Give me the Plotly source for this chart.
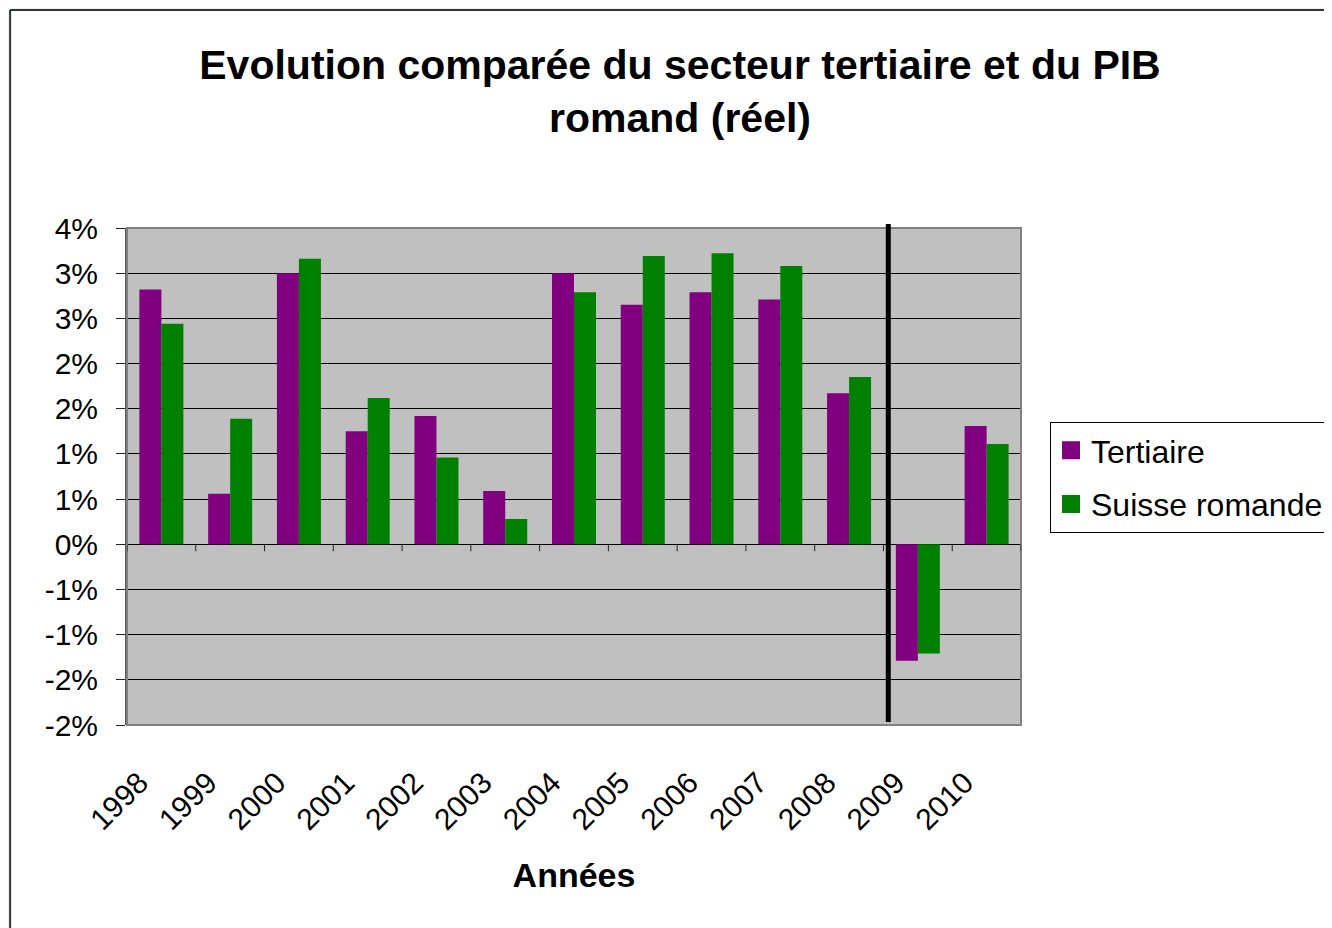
import plotly.graph_objects as go

years = ["1998", "1999", "2000", "2001", "2002", "2003", "2004", "2005", "2006", "2007", "2008", "2009", "2010"]
tertiaire = [2.82, 0.56, 3.00, 1.25, 1.42, 0.59, 3.00, 2.65, 2.79, 2.71, 1.67, -1.29, 1.31]
suisse_romande = [2.44, 1.39, 3.16, 1.62, 0.96, 0.28, 2.79, 3.19, 3.22, 3.08, 1.85, -1.21, 1.11]
ytick_vals = [-2.0, -1.5, -1.0, -0.5, 0.0, 0.5, 1.0, 1.5, 2.0, 2.5, 3.0, 3.5]
ytick_text = ["-2%", "-2%", "-1%", "-1%", "0%", "1%", "1%", "2%", "2%", "3%", "3%", "4%"]

PURPLE = "#800080"
GREEN = "#008000"
FONT = "Arial, Liberation Sans, sans-serif"

x = list(range(len(years)))

fig = go.Figure()
fig.add_trace(go.Bar(x=x, y=tertiaire, name="Tertiaire", marker=dict(color=PURPLE, line=dict(width=0)),
                     showlegend=False))
fig.add_trace(go.Bar(x=x, y=suisse_romande, name="Suisse romande", marker=dict(color=GREEN, line=dict(width=0)),
                     showlegend=False))
# legend proxies
fig.add_trace(go.Scatter(x=[None], y=[None], mode="markers", name="Tertiaire", legendgroup="a",
                         marker=dict(symbol="square", size=17, color=PURPLE, line=dict(color=PURPLE, width=2))))
fig.add_trace(go.Scatter(x=[None], y=[None], mode="markers", name="Suisse romande", legendgroup="b",
                         marker=dict(symbol="square", size=17, color=GREEN, line=dict(color=GREEN, width=2))))

# figure coordinates (the page adds an 8px body margin)
L, R, T, B = 119, 1014, 220, 717
W, H = 1332, 928
pw, ph = R - L, B - T

def px2x(p):
    return (p - L) / pw

def px2y(p):
    return (B - p) / ph

shapes = []
# teal page strips and dark sheet border
shapes.append(dict(type="rect", xref="paper", yref="paper", x0=px2x(-5), x1=px2x(W + 5), y0=px2y(2), y1=px2y(-5),
                   fillcolor="#e2f3ef", line=dict(width=0), layer="below"))
shapes.append(dict(type="rect", xref="paper", yref="paper", x0=px2x(-5), x1=px2x(2), y0=px2y(H + 5), y1=px2y(-5),
                   fillcolor="#e2f3ef", line=dict(width=0), layer="below"))
shapes.append(dict(type="line", xref="paper", yref="paper", x0=px2x(2), x1=px2x(W + 5), y0=px2y(2), y1=px2y(2),
                   line=dict(color="#333333", width=2), layer="below"))
shapes.append(dict(type="line", xref="paper", yref="paper", x0=px2x(2), x1=px2x(2), y0=px2y(2), y1=px2y(H + 5),
                   line=dict(color="#333333", width=2), layer="below"))
# plot area border
shapes.append(dict(type="rect", xref="paper", yref="paper", x0=0, x1=1, y0=0, y1=1,
                   line=dict(color="#808080", width=2), layer="above"))
# category tick marks on the zero line
for i in range(len(years) + 1):
    shapes.append(dict(type="line", xref="x", yref="y", ysizemode="pixel", yanchor=0,
                       x0=i - 0.5, x1=i - 0.5, y0=0, y1=-7, line=dict(color="#222222", width=1)))
# thick divider line between 2008 and 2009
shapes.append(dict(type="line", xref="x", yref="paper", x0=10.57, x1=10.57, y0=px2y(714), y1=px2y(216),
                   line=dict(color="black", width=5)))

fig.update_layout(
    width=W, height=H,
    margin=dict(l=L, r=W - R, t=T, b=H - B),
    paper_bgcolor="white",
    plot_bgcolor="#c0c0c0",
    barmode="group",
    bargap=0.36,
    bargroupgap=0,
    font=dict(family=FONT, color="black"),
    title=dict(text="<b>Evolution comparée du secteur tertiaire et du PIB<br>romand (réel)</b>",
               x=672 / W, xanchor="center", y=1 - 71 / H, yanchor="middle", yref="container",
               font=dict(size=41, family=FONT, color="black")),
    xaxis=dict(range=[-0.5, len(years) - 0.5], tickvals=x, ticktext=years, tickangle=-45,
               tickfont=dict(size=30, family=FONT, color="black"), ticks="", showgrid=False,
               zeroline=False, showline=False, ticklabelshift=-22, ticklabelstandoff=33,
               title=dict(text="<b>Années</b>", font=dict(size=34, family=FONT, color="black"), standoff=28)),
    yaxis=dict(range=[-2.0, 3.5], tickvals=ytick_vals, ticktext=ytick_text,
               tickfont=dict(size=30, family=FONT, color="black"),
               ticks="outside", ticklen=9, tickcolor="#222222", ticklabelstandoff=12,
               showgrid=True, gridcolor="black", gridwidth=1,
               zeroline=True, zerolinecolor="black", zerolinewidth=1,
               showline=True, linecolor="#555555", linewidth=2),
    legend=dict(x=px2x(1042), y=px2y(414), xanchor="left", yanchor="top",
                bgcolor="white", bordercolor="black", borderwidth=1, tracegroupgap=9,
                traceorder="grouped",
                font=dict(size=32, family=FONT, color="black"), itemwidth=30),
    shapes=shapes,
)

fig.write_html("out.html")
